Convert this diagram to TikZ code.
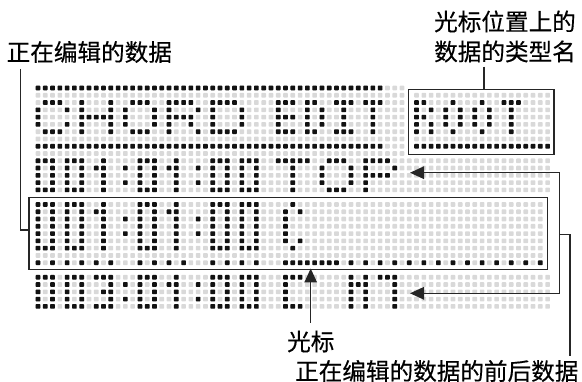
\documentclass[tikz,border=0pt]{standalone}
\usepackage{fontspec}
\newfontfamily\cjk[FakeBold=0.4]{Noto Sans CJK SC}
\usetikzlibrary{arrows.meta}
\newcommand\dkdot[2]{\fill[dotdk] ({#1-.32},{#2-.32}) rectangle ({#1+.32},{#2+.32});}
\newcommand\ltdot[2]{\fill[dotlt] ({#1-.32},{#2-.32}) rectangle ({#1+.32},{#2+.32});}
\ExplSyntaxOn
\NewDocumentCommand \glyph { m m m }
 {
  \clist_set:Nx \l_tmpa_clist {#3}
  \int_set:Nn \l_tmpb_int {#2}
  \clist_map_inline:Nn \l_tmpa_clist
   {
    \int_set:Nn \l_tmpa_int {#1}
    \tl_map_inline:nn {##1}
     {
      \str_if_eq:nnT {####1} {X}
       { \use:x { \exp_not:N \dkdot {\int_use:N \l_tmpa_int} {\int_use:N \l_tmpb_int} } }
      \int_incr:N \l_tmpa_int
     }
    \int_incr:N \l_tmpb_int
   }
 }
\ExplSyntaxOff
% 3x5 digits
\def\dZero{XXX,X.X,X.X,X.X,XXX}
\def\dOne{.X.,XX.,.X.,.X.,.X.}
\def\dThree{XXX,..X,.XX,..X,XXX}
\def\dColon{.,X,.,X,.}
% 3x7
\def\tZero{XXX,X.X,X.X,X.X,X.X,X.X,XXX}
\def\tOne{.X.,XX.,.X.,.X.,.X.,.X.,.X.}
\def\tColon{.,.,X,.,X,.,.}
\def\tC{.X.,X.X,X..,X..,X..,X.X,.X.}
% 5x5 letters
\def\fC{.XXX.,X...X,X....,X...X,.XXX.}
\def\fH{X...X,X...X,XXXXX,X...X,X...X}
\def\fO{.XXX.,X...X,X...X,X...X,.XXX.}
\def\fR{XXXX.,X...X,XXXX.,X..X.,X...X}
\def\fD{XXXX.,X...X,X...X,X...X,XXXX.}
\def\fT{XXXXX,..X..,..X..,..X..,..X..}
\def\fP{XXXX.,X...X,XXXX.,X....,X....}
% 3x5 letters
\def\sE{XXX,X..,XXX,X..,XXX}
\def\sD{XX.,X.X,X.X,X.X,XX.}
\def\sI{XXX,.X.,.X.,.X.,XXX}
\def\sT{XXX,.X.,.X.,.X.,.X.}
\def\sR{XX.,X.X,XX.,X.X,X.X}
\def\sO{.X.,X.X,X.X,X.X,.X.}
\def\sC{XXX,X..,X..,X..,XXX}
\def\sM{X.X,XXX,X.X,X.X,X.X}
\def\sSeven{XXX,..X,..X,..X,..X}
\begin{document}
\begin{tikzpicture}[x=1pt,y=-1pt,
  dotlt/.style={fill=black!15, rounded corners=0.7pt},
  dotdk/.style={fill=black!93, rounded corners=0.7pt},
  frame/.style={draw=black!85, line width=1.5pt, fill=none, inner sep=0pt, outer sep=0pt},
  conn/.style={draw=black!85, line width=1.5pt},
  tip/.style={-{Triangle[length=14pt,width=12.5pt]}},
  tips/.style={{Triangle[length=14pt,width=12.5pt]}-{Triangle[length=14pt,width=12.5pt]}},
  lbl/.style={font=\cjk\fontsize{23.6}{30}\selectfont, inner sep=0pt, text=black}]
\useasboundingbox (0,0) rectangle (582,382);
% ---------- dot matrix ----------
\begin{scope}[shift={(38,88)}, x=7.28pt, y=-7.28pt]
  \foreach \r in {0,...,9} \foreach \c in {0,...,50} {\ltdot{\c}{\r}}
  \foreach \r in {1,...,8} \foreach \c in {52,...,70} {\ltdot{\c}{\r}}
  \foreach \r in {10,...,14} \foreach \c in {0,...,70} {\ltdot{\c}{\r}}
  \foreach \r in {16,...,24} \foreach \c in {0,...,69} {\ltdot{\c}{\r}}
  \foreach \r in {26,...,30} \foreach \c in {0,...,70} {\ltdot{\c}{\r}}
  % bars
  \foreach \c in {0,...,47} {\dkdot{\c}{0}\dkdot{\c}{8}}
  \foreach \c in {52,...,70} {\dkdot{\c}{8}}
  % line A
  \glyph{0}{2}{\fC}\glyph{6}{2}{\fH}\glyph{12}{2}{\fO}\glyph{18}{2}{\fR}\glyph{24}{2}{\fD}
  \glyph{33}{2}{\sE}\glyph{37}{2}{\sD}\glyph{41}{2}{\sI}\glyph{45}{2}{\sT}
  \glyph{52}{2}{\sR}\glyph{56}{2}{\sO}\glyph{60}{2}{\sO}\glyph{64}{2}{\sT}
  % line B
  \glyph{0}{10}{\dZero}\glyph{4}{10}{\dZero}\glyph{8}{10}{\dOne}\glyph{12}{10}{\dColon}
  \glyph{14}{10}{\dZero}\glyph{18}{10}{\dOne}\glyph{22}{10}{\dColon}
  \glyph{24}{10}{\dZero}\glyph{28}{10}{\dZero}
  \glyph{33}{10}{\fT}\glyph{39}{10}{\fO}\glyph{45}{10}{\fP}
  % line M (tall)
  \glyph{0}{16}{\tZero}\glyph{4}{16}{\tZero}\glyph{8}{16}{\tOne}\glyph{12}{16}{\tColon}
  \glyph{14}{16}{\tZero}\glyph{18}{16}{\tOne}\glyph{22}{16}{\tColon}
  \glyph{24}{16}{\tZero}\glyph{28}{16}{\tZero}\glyph{34}{16}{\tC}
  % cursor row
  \foreach \c in {0,2,...,10,14,16,...,20,24,26,...,30,34,35,...,41,43,45,...,69} {\dkdot{\c}{24}}
  % line C
  \glyph{0}{26}{\dZero}\glyph{4}{26}{\dZero}\glyph{8}{26}{\dThree}\glyph{12}{26}{\dColon}
  \glyph{14}{26}{\dZero}\glyph{18}{26}{\dOne}\glyph{22}{26}{\dColon}
  \glyph{24}{26}{\dZero}\glyph{28}{26}{\dZero}
  \glyph{34}{26}{\sC}\glyph{43}{26}{\sM}\glyph{47}{26}{\sSeven}
\end{scope}
% ---------- frames ----------
\node[frame, minimum width=518.7pt, minimum height=71.8pt] (midbox) at (288.35,233.6) {};
\node[frame, minimum width=145.7pt, minimum height=65.4pt] (rootbox) at (481.15,122) {};
% ---------- labels ----------
\node[lbl, anchor=base west] (lab1) at (6.5,61) {正在编辑的数据};
\node[lbl, anchor=base west] (lab2a) at (434,30.5) {光标位置上的};
\node[lbl, anchor=base west] (lab2b) at (434,60.5) {数据的类型名};
\node[lbl, anchor=base west] (lab3) at (287,350.5) {光标};
\node[lbl, anchor=base west] (lab4) at (295,380) {正在编辑的数据的前后数据};
% ---------- connectors ----------
\coordinate (k1) at (20.7,69);
\coordinate (k1b) at (20.7,230);
\draw[conn] (k1) -- (k1b) -- (k1b -| midbox.west);
\coordinate (k2) at (484,66.7);
\draw[conn] (k2) -- (k2 |- rootbox.north);
\coordinate (a1) at (410,172.7);
\coordinate (a2) at (410,293.3);
\coordinate (bt) at (559.3,172.7);
\coordinate (bb) at (559.3,293.3);
\draw[conn, tips] (a1) -- (bt) -- (bb) -- (a2);
\coordinate (bm) at (559.3,234.3);
\coordinate (bm2) at (570,234.3);
\coordinate (bm3) at (570,356.5);
\draw[conn] (bm) -- (bm2) -- (bm3);
\coordinate (cur) at (310.7,268.5);
\coordinate (curb) at (310.7,323);
\draw[conn, tip] (curb) -- (cur);
\end{tikzpicture}
\end{document}
